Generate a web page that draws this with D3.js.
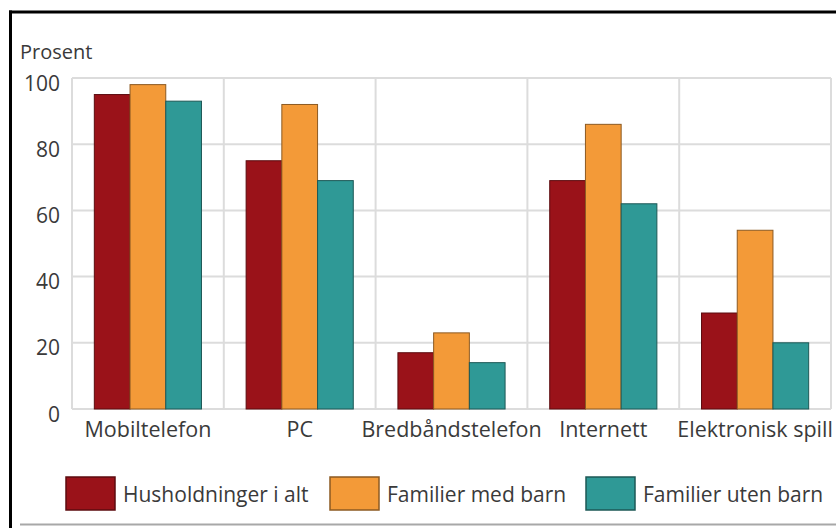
<!DOCTYPE html>
<html>
<head>
<meta charset="utf-8">
<script src="https://cdn.jsdelivr.net/npm/d3@7"></script>
<style>
  html, body { margin: 0; padding: 0; background: #fff; }
  svg { display: block; }
  text { font-family: "Open Sans", "Noto Sans", sans-serif; fill: #3a3a3a; }
</style>
</head>
<body>
<svg id="chart" width="836" height="528"></svg>
<script>
// Categories of equipment and the share (percent) of households owning it
const categories = ["Mobiltelefon", "PC", "Bredbåndstelefon", "Internett", "Elektronisk spill"];
const seriesNames = ["Husholdninger i alt", "Familier med barn", "Familier uten barn"];
const husholdningerIAlt = [95, 75, 17, 69, 29];
const familierMedBarn   = [98, 92, 23, 86, 54];
const familierUtenBarn  = [93, 69, 14, 62, 20];
const yTicks = [0, 20, 40, 60, 80, 100];
const yLabel = "Prosent";

const seriesValues = [husholdningerIAlt, familierMedBarn, familierUtenBarn];
const colors = ["#9a1219", "#f39a38", "#2f9996"];
const strokes = ["#5c0b0f", "#8c5a22", "#1d5856"];

const svg = d3.select("#chart");
const plot = { left: 72, right: 831, top: 78, bottom: 409 };

const x0 = d3.scaleBand().domain(categories).range([plot.left, plot.right]);
const x1 = d3.scaleBand().domain(seriesNames).range([0, x0.bandwidth()])
  .paddingInner(0).paddingOuter(0.625);
const y = d3.scaleLinear().domain([0, 100]).range([plot.bottom, plot.top]);

// Outer frame: heavy black rule on top and left, thin grey rule at the bottom
svg.append("line").attr("x1", 9).attr("x2", 836).attr("y1", 12).attr("y2", 12)
  .attr("stroke", "#000").attr("stroke-width", 3);
svg.append("line").attr("x1", 10.5).attr("x2", 10.5).attr("y1", 10.5).attr("y2", 528)
  .attr("stroke", "#000").attr("stroke-width", 3);
svg.append("line").attr("x1", 20).attr("x2", 836).attr("y1", 524.5).attr("y2", 524.5)
  .attr("stroke", "#a8a8a8").attr("stroke-width", 2);

// Horizontal gridlines
const grid = svg.append("g");
grid.selectAll("line.h").data(yTicks).join("line")
  .attr("class", "h")
  .attr("x1", plot.left).attr("x2", plot.right)
  .attr("y1", d => y(d)).attr("y2", d => y(d))
  .attr("stroke", "#dcdcdc").attr("stroke-width", 2);

// Vertical separators between categories
const seps = categories.map(c => x0(c)).concat([plot.right]);
grid.selectAll("line.v").data(seps).join("line")
  .attr("class", "v")
  .attr("x1", d => d).attr("x2", d => d)
  .attr("y1", plot.top).attr("y2", plot.bottom)
  .attr("stroke", "#dcdcdc").attr("stroke-width", 2);

// Y axis tick labels
const yAxis = d3.axisLeft(y).tickValues(yTicks).tickSize(0).tickPadding(12);
const yg = svg.append("g").attr("transform", `translate(${plot.left},0)`).call(yAxis);
yg.select(".domain").remove();
yg.selectAll("text")
  .attr("font-size", 21).attr("font-family", "'Open Sans', sans-serif")
  .attr("fill", "#3a3a3a").attr("dy", "0.58em");

svg.append("text").attr("x", 20).attr("y", 59).attr("font-size", 20).text(yLabel);

// Bars
const groups = svg.append("g").selectAll("g").data(categories).join("g")
  .attr("transform", c => `translate(${x0(c)},0)`);
groups.selectAll("rect")
  .data((c, ci) => seriesNames.map((s, si) => ({ s, si, v: seriesValues[si][ci] })))
  .join("rect")
  .attr("x", d => x1(d.s))
  .attr("width", x1.bandwidth())
  .attr("y", d => y(d.v))
  .attr("height", d => y(0) - y(d.v))
  .attr("fill", d => colors[d.si])
  .attr("stroke", d => strokes[d.si])
  .attr("stroke-width", 1);

// X axis category labels
const xAxis = d3.axisBottom(x0).tickSize(0).tickPadding(13);
const xg = svg.append("g").attr("transform", `translate(0,${plot.bottom})`).call(xAxis);
xg.select(".domain").remove();
xg.selectAll("text")
  .attr("font-size", 21.5).attr("font-family", "'Open Sans', sans-serif")
  .attr("fill", "#3a3a3a");

// Legend
const legendX = [66, 330, 586];
const lg = svg.append("g").selectAll("g").data(seriesNames).join("g")
  .attr("transform", (d, i) => `translate(${legendX[i]},477)`);
lg.append("rect").attr("width", 49).attr("height", 33)
  .attr("fill", (d, i) => colors[i]).attr("stroke", (d, i) => strokes[i]).attr("stroke-width", 1.5);
lg.append("text").attr("x", 57).attr("y", 17).attr("dy", "0.36em")
  .attr("font-size", 21).text(d => d);
</script>
</body>
</html>
